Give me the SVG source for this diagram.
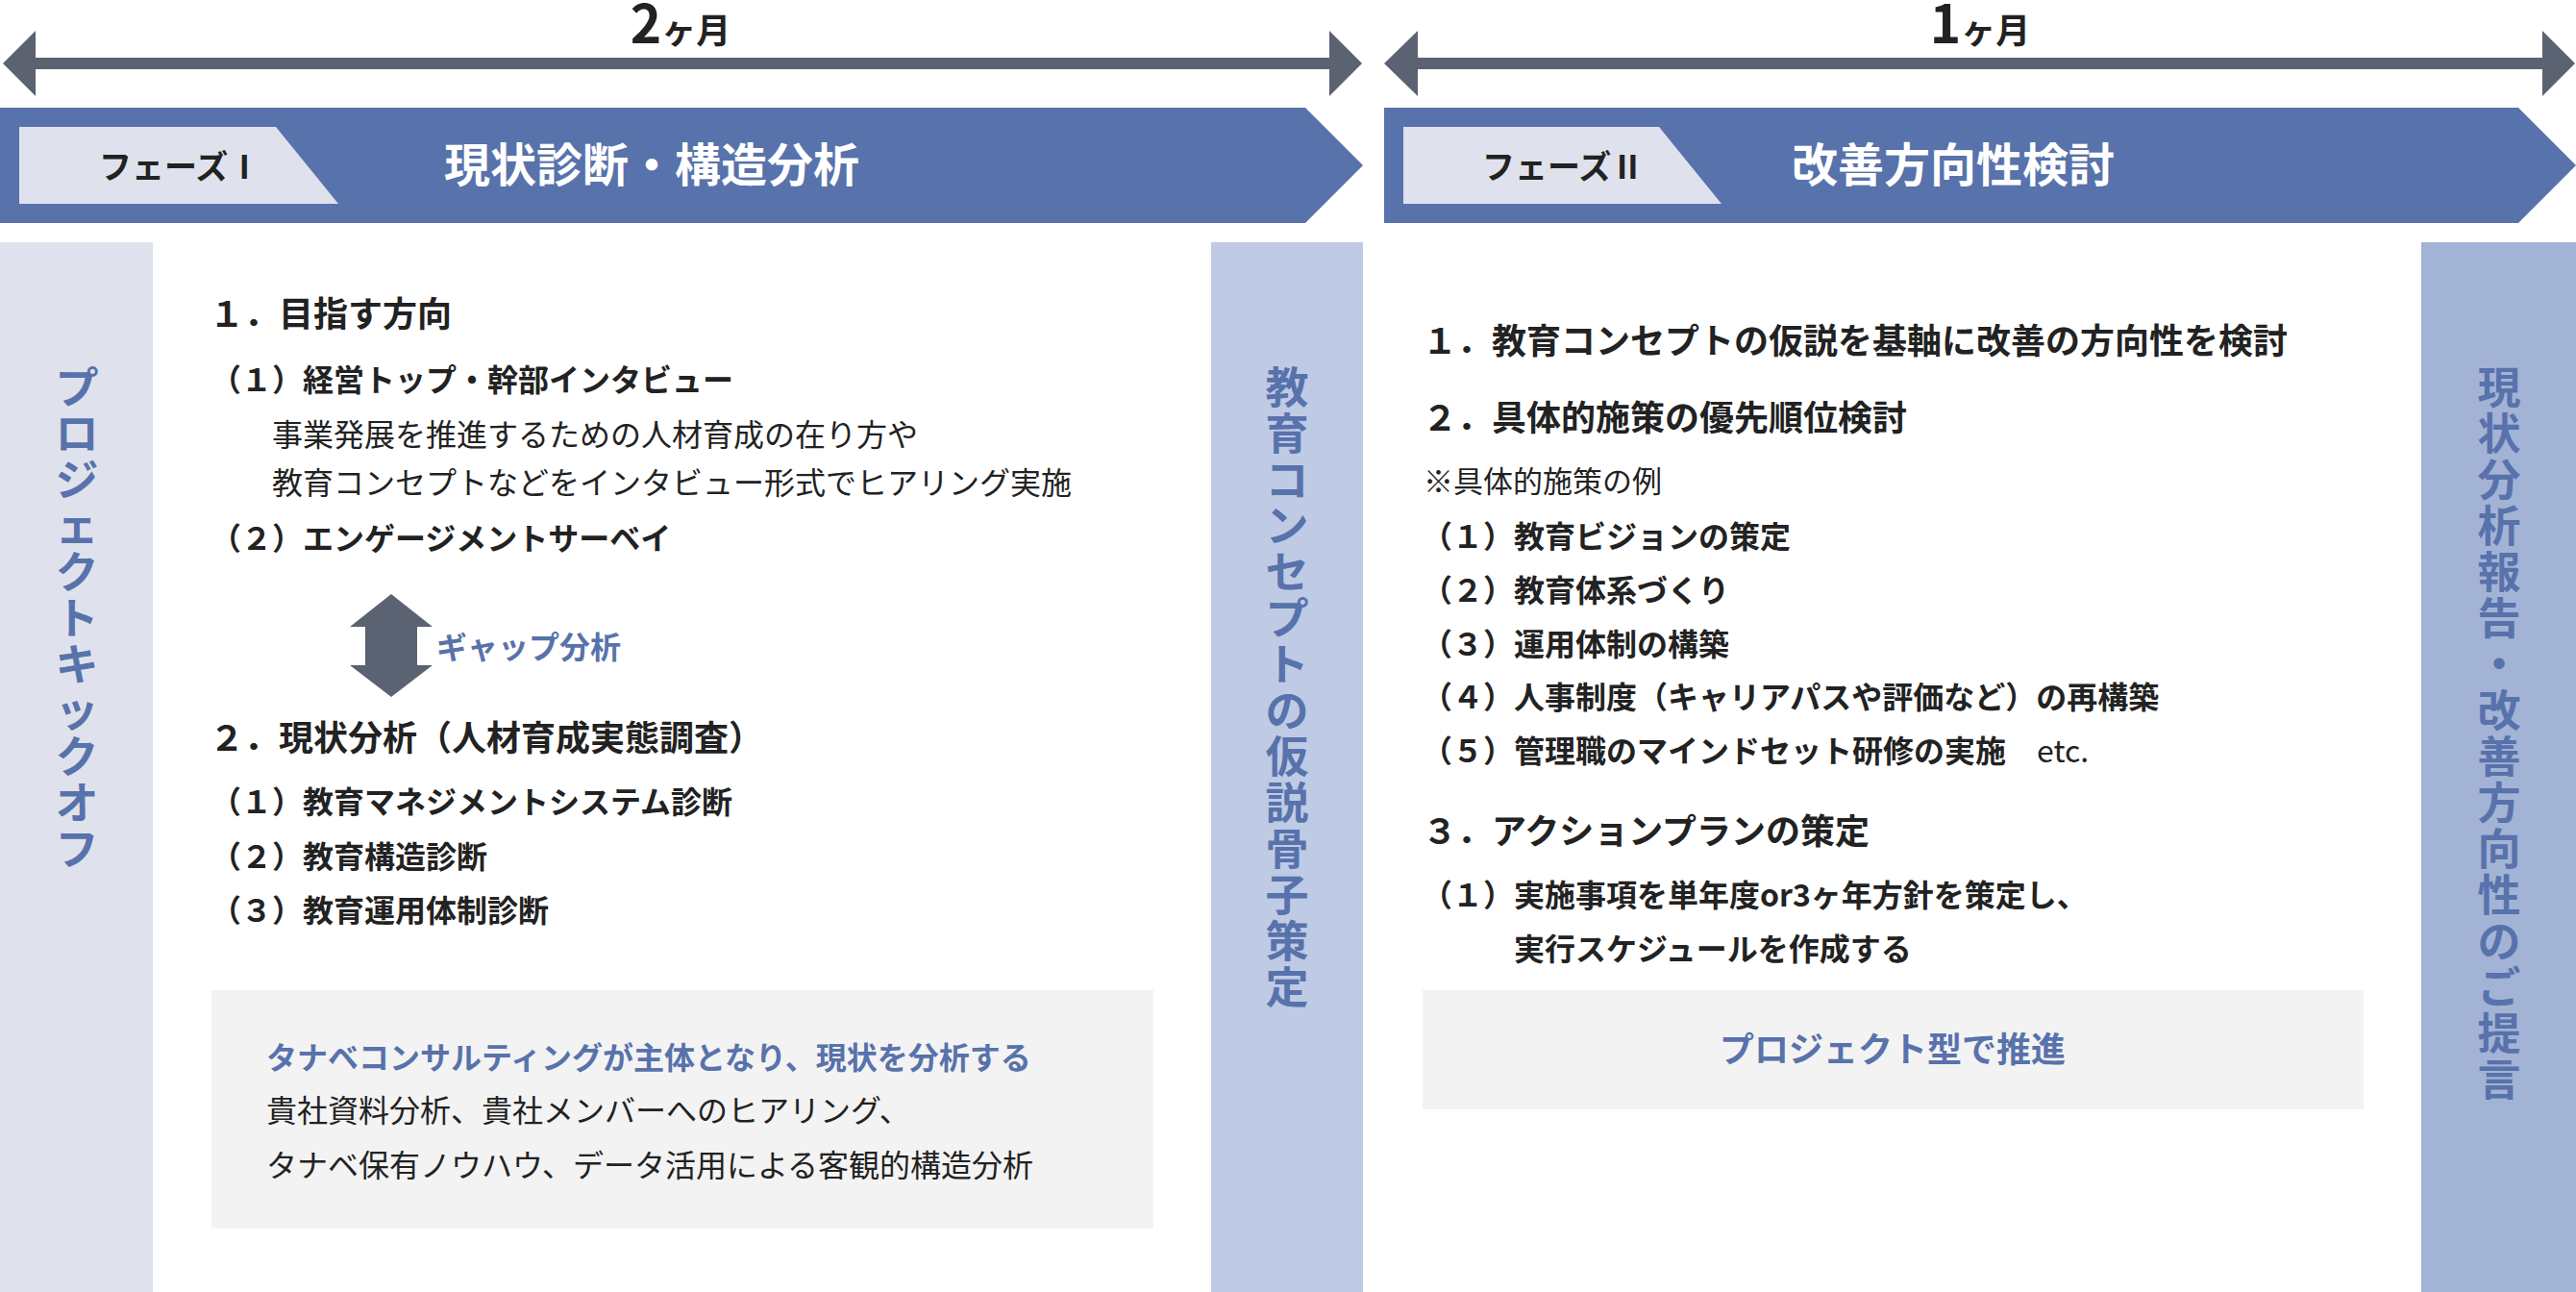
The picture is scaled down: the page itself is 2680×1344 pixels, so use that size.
<svg xmlns="http://www.w3.org/2000/svg" width="2680" height="1344" viewBox="0 0 2680 1344">
<style>
text{font-family:"Noto Sans CJK JP","Noto Sans",sans-serif}
.bd{font-weight:700;fill:#222}
.rg{font-weight:400;fill:#222}
.h{font-size:36px}
.i{font-size:32px}
.blue{fill:#5872ab}
.vt{font-size:45px;font-weight:700;fill:#5872ab;text-anchor:middle}
.arrow{fill:#5b6271}
.banner{fill:#5872ab}
.lbl{fill:#dfe2ec}
.grey{fill:#f3f3f3}
</style>
<rect width="2680" height="1344" fill="#ffffff"/>

<g id="connectors">
  <polygon class="arrow" points="3,66 37,32 37,60 1383,60 1383,32 1417,66 1383,100 1383,72 37,72 37,100"/>
  <polygon class="arrow" points="1440,66 1475,32 1475,60 2645,60 2645,32 2679,66 2645,100 2645,72 1475,72 1475,100"/>
  <polygon class="arrow" points="407,618 450,652 434,652 434,692 450,692 407,725 364,692 380,692 380,652 364,652"/>
</g>

<g id="duration-1">
  <text x="708" y="45" text-anchor="middle" class="bd" fill="#333"><tspan font-size="55">2</tspan><tspan font-size="36">ヶ月</tspan></text>
</g>
<g id="duration-2">
  <text x="2060" y="45" text-anchor="middle" class="bd" fill="#333"><tspan font-size="55">1</tspan><tspan font-size="36">ヶ月</tspan></text>
</g>

<g id="phase1-banner">
  <polygon class="banner" points="0,112 1358,112 1418,172 1358,232 0,232"/>
  <polygon class="lbl" points="20,132 287,132 352,212 20,212"/>
  <text x="103" y="186" class="bd" font-size="34" fill="#333">フェーズⅠ</text>
  <text x="462" y="189" font-size="48" font-weight="700" fill="#ffffff">現状診断・構造分析</text>
</g>

<g id="phase2-banner">
  <polygon class="banner" points="1440,112 2620,112 2680,172 2620,232 1440,232"/>
  <polygon class="lbl" points="1460,132 1726,132 1791,212 1460,212"/>
  <text x="1542" y="186" class="bd" font-size="34" fill="#333">フェーズⅡ</text>
  <text x="1864" y="189" font-size="48" font-weight="700" fill="#ffffff">改善方向性検討</text>
</g>

<g id="kickoff">
  <rect x="0" y="252" width="159" height="1092" fill="#dfe2ec"/>
  <text class="vt"><tspan x="80" y="420">プ</tspan><tspan x="80" y="468">ロ</tspan><tspan x="80" y="516">ジ</tspan><tspan x="80" y="564">ェ</tspan><tspan x="80" y="612">ク</tspan><tspan x="80" y="660">ト</tspan><tspan x="80" y="708">キ</tspan><tspan x="80" y="756">ッ</tspan><tspan x="80" y="804">ク</tspan><tspan x="80" y="852">オ</tspan><tspan x="80" y="900">フ</tspan></text>
</g>

<g id="concept">
  <rect x="1260" y="252" width="158" height="1092" fill="#bfcae5"/>
  <text class="vt"><tspan x="1339" y="420">教</tspan><tspan x="1339" y="468">育</tspan><tspan x="1339" y="516">コ</tspan><tspan x="1339" y="564">ン</tspan><tspan x="1339" y="612">セ</tspan><tspan x="1339" y="660">プ</tspan><tspan x="1339" y="708">ト</tspan><tspan x="1339" y="756">の</tspan><tspan x="1339" y="804">仮</tspan><tspan x="1339" y="852">説</tspan><tspan x="1339" y="900">骨</tspan><tspan x="1339" y="948">子</tspan><tspan x="1339" y="996">策</tspan><tspan x="1339" y="1044">定</tspan></text>
</g>

<g id="report">
  <rect x="2519" y="252" width="161" height="1092" fill="#a3b3d5"/>
  <text class="vt"><tspan x="2600" y="420">現</tspan><tspan x="2600" y="468">状</tspan><tspan x="2600" y="516">分</tspan><tspan x="2600" y="564">析</tspan><tspan x="2600" y="612">報</tspan><tspan x="2600" y="660">告</tspan><tspan x="2600" y="708">・</tspan><tspan x="2600" y="756">改</tspan><tspan x="2600" y="804">善</tspan><tspan x="2600" y="852">方</tspan><tspan x="2600" y="900">向</tspan><tspan x="2600" y="948">性</tspan><tspan x="2600" y="996">の</tspan><tspan x="2600" y="1044">ご</tspan><tspan x="2600" y="1092">提</tspan><tspan x="2600" y="1140">言</tspan></text>
</g>

<g id="phase1-content">
  <text x="218" y="340" class="bd h">１．目指す方向</text>
  <text x="219" y="407" class="bd i">（１）経営トップ・幹部インタビュー</text>
  <text x="283" y="464" class="rg i">事業発展を推進するための人材育成の在り方や</text>
  <text x="283" y="514" class="rg i">教育コンセプトなどをインタビュー形式でヒアリング実施</text>
  <text x="219" y="572" class="bd i">（２）エンゲージメントサーベイ</text>
  <text x="454" y="685" class="bd i blue">ギャップ分析</text>
  <text x="218" y="781" class="bd h">２．現状分析（人材育成実態調査）</text>
  <text x="219" y="846" class="bd i">（１）教育マネジメントシステム診断</text>
  <text x="219" y="903" class="bd i">（２）教育構造診断</text>
  <text x="219" y="959" class="bd i">（３）教育運用体制診断</text>
</g>

<g id="phase1-note">
  <rect class="grey" x="220" y="1030" width="980" height="248"/>
  <text x="277" y="1112" class="bd i blue">タナベコンサルティングが主体となり、現状を分析する</text>
  <text x="277" y="1167" class="rg i">貴社資料分析、貴社メンバーへのヒアリング、</text>
  <text x="277" y="1224" class="rg i">タナベ保有ノウハウ、データ活用による客観的構造分析</text>
</g>

<g id="phase2-content">
  <text x="1480" y="368" class="bd h">１．教育コンセプトの仮説を基軸に改善の方向性を検討</text>
  <text x="1480" y="448" class="bd h">２．具体的施策の優先順位検討</text>
  <text x="1481" y="512" class="rg" font-size="31" fill="#333">※具体的施策の例</text>
  <text x="1479" y="570" class="bd i">（１）教育ビジョンの策定</text>
  <text x="1479" y="626" class="bd i">（２）教育体系づくり</text>
  <text x="1479" y="682" class="bd i">（３）運用体制の構築</text>
  <text x="1479" y="737" class="bd i">（４）人事制度（キャリアパスや評価など）の再構築</text>
  <text x="1479" y="793" class="bd i">（５）管理職のマインドセット研修の実施　<tspan font-weight="400">etc.</tspan></text>
  <text x="1480" y="878" class="bd h">３．アクションプランの策定</text>
  <text x="1479" y="943" class="bd i">（１）実施事項を単年度or3ヶ年方針を策定し、</text>
  <text x="1575" y="999" class="bd i">実行スケジュールを作成する</text>
</g>

<g id="phase2-note">
  <rect class="grey" x="1480" y="1030" width="979" height="124"/>
  <text x="1969" y="1105" text-anchor="middle" class="bd blue" font-size="36">プロジェクト型で推進</text>
</g>
</svg>
